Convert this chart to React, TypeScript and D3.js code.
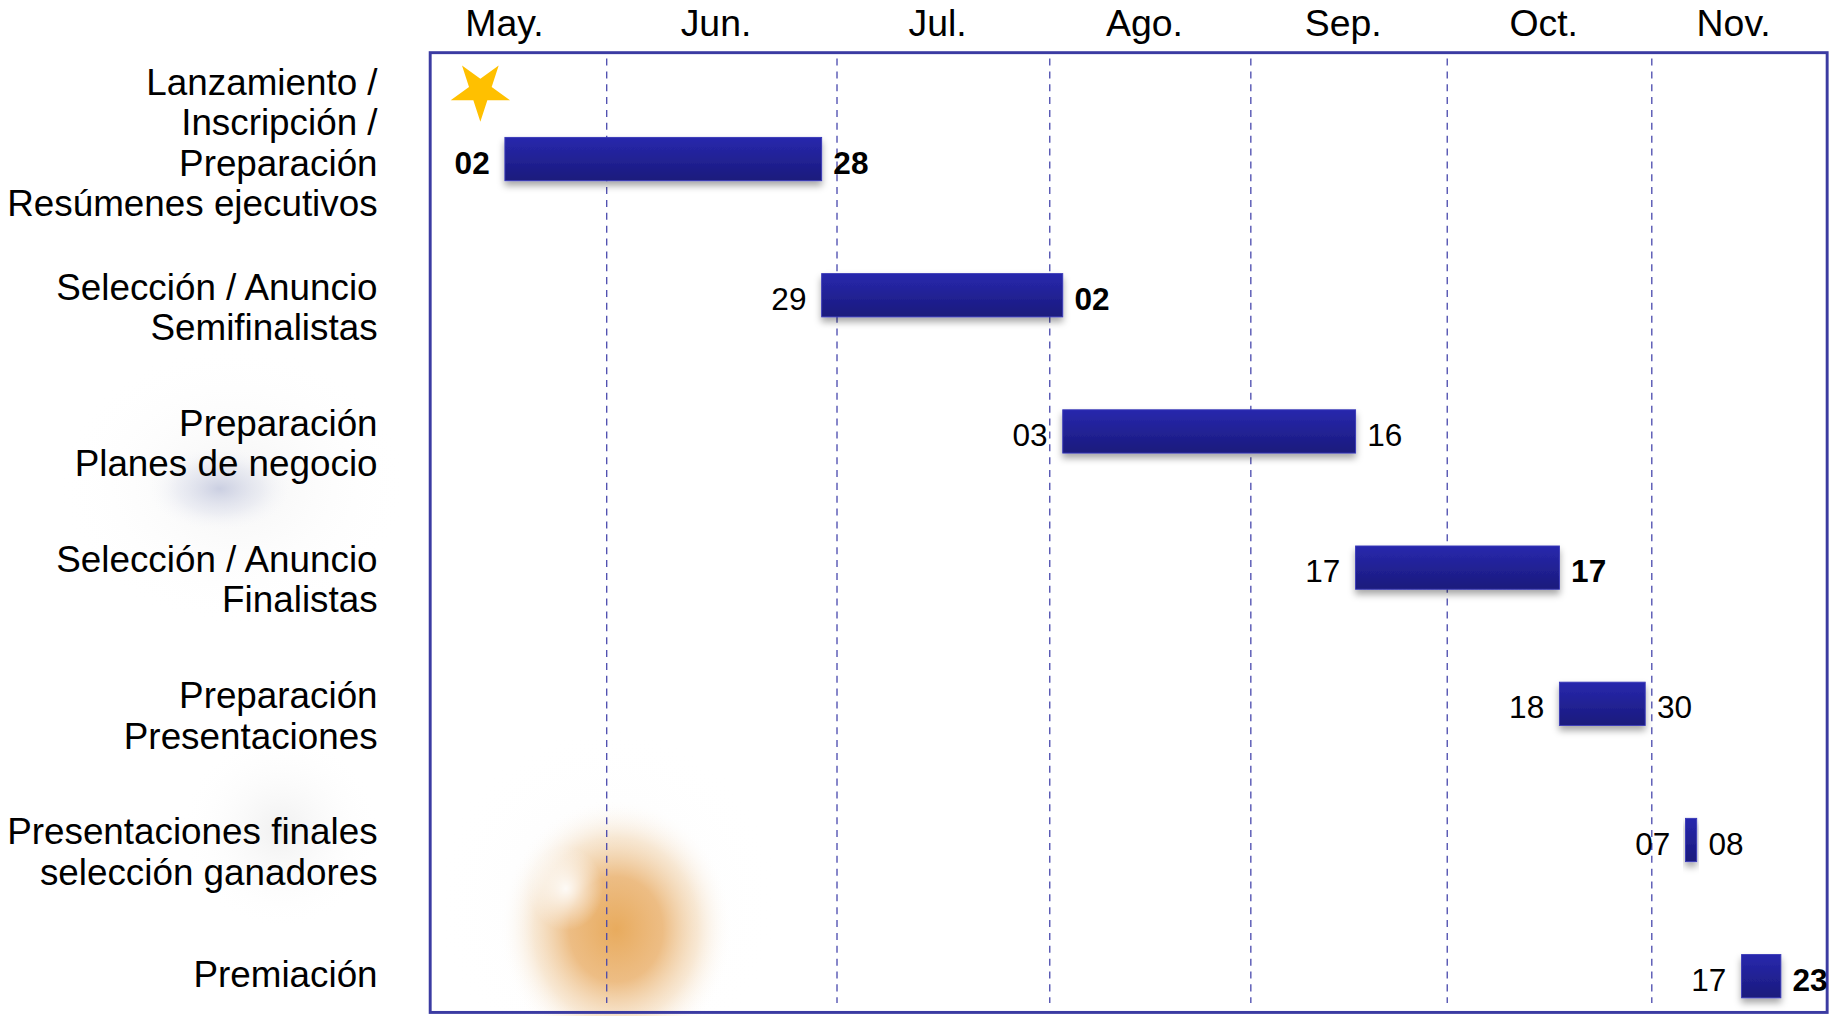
import React, { useEffect, useRef } from 'react';
import * as d3 from 'd3';

// calendar (year is not shown on the slide)
const YEAR = 2013;
const months = ['May.', 'Jun.', 'Jul.', 'Ago.', 'Sep.', 'Oct.', 'Nov.'];
const monthStarts = ['05-01', '06-01', '07-01', '08-01', '09-01', '10-01', '11-01', '12-01'];

const taskLabels = [
  ['Lanzamiento /', 'Inscripción /', 'Preparación', 'Resúmenes ejecutivos'],
  ['Selección / Anuncio', 'Semifinalistas'],
  ['Preparación', 'Planes de negocio'],
  ['Selección / Anuncio', 'Finalistas'],
  ['Preparación', 'Presentaciones'],
  ['Presentaciones finales', 'selección ganadores'],
  ['Premiación'],
];
const startDates = ['05-02', '06-29', '08-03', '09-17', '10-18', '11-07', '11-17'];
const endDates = ['06-28', '08-02', '09-16', '10-17', '10-30', '11-08', '11-23'];
const startBold = [true, false, false, false, false, false, false];
const endBold = [true, true, false, true, false, false, true];
const launchDate = '05-02';

const parse = (s: string) => d3.timeParse('%Y-%m-%d')(`${YEAR}-${s}`) as Date;

const W = 1568;
const H = 869;
const frame = { left: 368, top: 45, right: 1563, bottom: 866 };
// month columns on the slide are not all the same width
const monthEdges = [429, 519, 716, 898, 1070, 1238, 1413, 1557];
const FONT = '"Liberation Sans", Arial, Helvetica, sans-serif';

const GanttChart: React.FC = () => {
  const svgRef = useRef<SVGSVGElement | null>(null);

  useEffect(() => {
    if (!svgRef.current) return;
    const svg = d3.select(svgRef.current);
    svg.selectAll('*').remove();

    const x = d3.scaleTime()
      .domain(monthStarts.map(parse))
      .range(monthEdges);

    const y = d3.scalePoint<number>()
      .domain(d3.range(taskLabels.length))
      .range([136, 835]);

    const barH = 37;
    const lineH = 34.5;

    const defs = svg.append('defs');

    const barGrad = defs.append('linearGradient')
      .attr('id', 'barGrad')
      .attr('x1', 0).attr('y1', 0).attr('x2', 0).attr('y2', 1);
    barGrad.append('stop').attr('offset', '0%').attr('stop-color', '#2828ad');
    barGrad.append('stop').attr('offset', '100%').attr('stop-color', '#1a1a7c');

    const shadow = defs.append('filter')
      .attr('id', 'barShadow')
      .attr('x', '-20%').attr('y', '-30%').attr('width', '140%').attr('height', '180%');
    shadow.append('feDropShadow')
      .attr('dx', 0).attr('dy', 4).attr('stdDeviation', 3)
      .attr('flood-color', '#000').attr('flood-opacity', 0.35);

    const blob = (id: string, stops: [number, string, number][]) => {
      const g = defs.append('radialGradient').attr('id', id);
      stops.forEach(([o, c, a]) => {
        g.append('stop').attr('offset', `${o}%`).attr('stop-color', c).attr('stop-opacity', a);
      });
    };
    blob('orangeBlob', [[0, '#e6a24c', 0.9], [40, '#e9ad66', 0.8], [70, '#f0cc9e', 0.45], [100, '#ffffff', 0]]);
    blob('whiteSpot', [[0, '#ffffff', 1], [100, '#ffffff', 0]]);
    blob('blueBlob', [[0, '#c3c8de', 0.85], [55, '#dcdfec', 0.45], [100, '#ffffff', 0]]);
    blob('grayBlob', [[0, '#dcdcdc', 0.7], [100, '#ffffff', 0]]);

    // soft background decorations
    const bg = svg.append('g');
    bg.append('ellipse').attr('cx', 200).attr('cy', 415).attr('rx', 150).attr('ry', 120).attr('fill', 'url(#grayBlob)').attr('opacity', 0.45);
    bg.append('ellipse').attr('cx', 188).attr('cy', 418).attr('rx', 65).attr('ry', 38).attr('fill', 'url(#blueBlob)');
    bg.append('ellipse').attr('cx', 240).attr('cy', 710).attr('rx', 85).attr('ry', 85).attr('fill', 'url(#grayBlob)').attr('opacity', 0.6);
    bg.append('ellipse').attr('cx', 520).attr('cy', 770).attr('rx', 150).attr('ry', 150).attr('fill', 'url(#grayBlob)').attr('opacity', 0.22);
    bg.append('ellipse').attr('cx', 527).attr('cy', 795).attr('rx', 100).attr('ry', 112).attr('fill', 'url(#orangeBlob)');
    bg.append('ellipse').attr('cx', 484).attr('cy', 760).attr('rx', 32).attr('ry', 36).attr('fill', 'url(#whiteSpot)').attr('opacity', 0.9);

    // month gridlines
    const inner = monthStarts.slice(1, -1).map(parse);
    svg.append('g')
      .selectAll('line')
      .data(inner)
      .join('line')
      .attr('x1', d => x(d))
      .attr('x2', d => x(d))
      .attr('y1', frame.top + 5)
      .attr('y2', frame.bottom - 8)
      .attr('stroke', '#4646ac')
      .attr('stroke-width', 1.1)
      .attr('stroke-dasharray', '6 5');

    // month labels, centred in each visible column
    svg.append('g')
      .selectAll('text')
      .data(months)
      .join('text')
      .attr('x', (_, i) => {
        const l = i === 0 ? frame.left : x(parse(monthStarts[i]));
        const r = i === months.length - 1 ? frame.right : x(parse(monthStarts[i + 1]));
        return (l + r) / 2 - (i === 0 ? 12 : 5);
      })
      .attr('y', 31)
      .attr('text-anchor', 'middle')
      .attr('font-family', FONT)
      .attr('font-size', 32)
      .attr('fill', '#000')
      .text(d => d);

    // frame
    svg.append('rect')
      .attr('x', frame.left)
      .attr('y', frame.top)
      .attr('width', frame.right - frame.left)
      .attr('height', frame.bottom - frame.top)
      .attr('fill', 'none')
      .attr('stroke', '#3b3ba2')
      .attr('stroke-width', 2.5);

    const rows = d3.range(taskLabels.length);
    const endNext = (i: number) => d3.timeDay.offset(parse(endDates[i]), 1);

    // bars
    svg.append('g')
      .selectAll('rect')
      .data(rows)
      .join('rect')
      .attr('x', i => x(parse(startDates[i])))
      .attr('y', i => (y(i) as number) - barH / 2)
      .attr('width', i => x(endNext(i)) - x(parse(startDates[i])))
      .attr('height', barH)
      .attr('fill', 'url(#barGrad)')
      .attr('stroke', '#3a3ab8')
      .attr('stroke-width', 0.8)
      .attr('filter', 'url(#barShadow)');

    // start / end day labels
    const dayFmt = d3.timeFormat('%d');
    svg.append('g')
      .selectAll('text')
      .data(rows)
      .join('text')
      .attr('x', i => x(parse(startDates[i])) - 13)
      .attr('y', i => (y(i) as number) + 3)
      .attr('dy', '0.35em')
      .attr('text-anchor', 'end')
      .attr('font-family', FONT)
      .attr('font-size', 27)
      .attr('font-weight', i => (startBold[i] ? 'bold' : 'normal'))
      .text(i => dayFmt(parse(startDates[i])));

    svg.append('g')
      .selectAll('text')
      .data(rows)
      .join('text')
      .attr('x', i => x(endNext(i)) + 10)
      .attr('y', i => (y(i) as number) + 3)
      .attr('dy', '0.35em')
      .attr('text-anchor', 'start')
      .attr('font-family', FONT)
      .attr('font-size', 27)
      .attr('font-weight', i => (endBold[i] ? 'bold' : 'normal'))
      .text(i => dayFmt(parse(endDates[i])));

    // launch star
    const star = d3.symbol().type(d3.symbolStar).size(800);
    svg.append('path')
      .attr('d', star() as string)
      .attr('transform', `translate(${x(parse(launchDate)) - 21},${(y(0) as number) - barH / 2 - 40}) rotate(180)`)
      .attr('fill', '#ffc000');

    // task labels: two-line blocks sit a little below the bar, longer/shorter ones rise
    const lab = svg.append('g')
      .attr('font-family', FONT)
      .attr('font-size', 31.5)
      .attr('text-anchor', 'end')
      .attr('fill', '#000');
    rows.forEach(i => {
      const lines = taskLabels[i];
      const mid = (y(i) as number) + 10 - Math.abs(lines.length - 2) * 12;
      lines.forEach((t, k) => {
        lab.append('text')
          .attr('x', 323)
          .attr('y', mid + (k - (lines.length - 1) / 2) * lineH)
          .attr('dy', '0.35em')
          .text(t);
      });
    });
  }, []);

  return (
    <svg
      ref={svgRef}
      width={1833}
      height={1016}
      viewBox={`0 0 ${W} ${H}`}
      style={{ position: 'absolute', left: 0, top: 0, background: '#fff' }}
    />
  );
};

export default function App() {
  return <GanttChart />;
}
